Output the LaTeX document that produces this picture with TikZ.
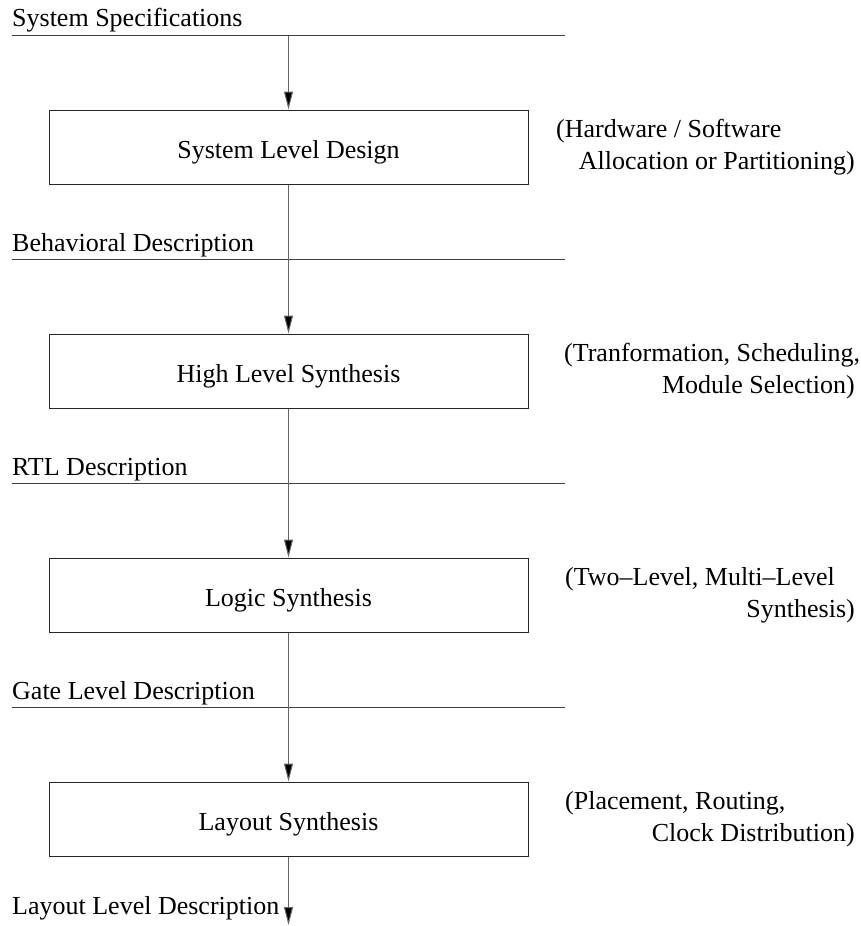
\documentclass[tikz,border=0pt]{standalone}
\usepackage{fontspec}
\setmainfont{Liberation Serif}
\usetikzlibrary{arrows.meta}
\begin{document}
\begin{tikzpicture}[x=1pt,y=-1pt,
  every node/.style={font=\fontsize{26}{31}\selectfont, inner sep=0pt},
  rule/.style={line width=1pt, black!75},
  flow/.style={line width=1pt, black!60, -{Triangle[length=18pt,width=9pt,fill=black]}},
  stage/.style={draw=black!85, line width=1pt, minimum width=479pt, minimum height=74pt,
                text height=22pt, text depth=0pt},
  levelname/.style={anchor=base west},
  notefirst/.style={anchor=base west},
  notesecond/.style={anchor=base east}]
\useasboundingbox (0,0) rectangle (861,926);

% description levels (label above a horizontal rule)
\foreach \name/\y/\txt in {spec/35.5/System Specifications,
                           beh/259.5/Behavioral Description,
                           rtl/483.5/RTL Description,
                           gate/707.5/Gate Level Description}{
  \coordinate (\name L) at (12,\y);
  \coordinate (\name R) at (565,\y);
  \coordinate (\name) at (288.5,\y);
  \draw[rule] (\name L) -- (\name R);
  \node[levelname] (\name text) at (12,\y-8.5) {\txt};
}

% synthesis stages
\node[stage] (sld) at (288.5,147) {System Level Design};
\node[stage] (hls) at (288.5,371) {High Level Synthesis};
\node[stage] (ls)  at (288.5,595) {Logic Synthesis};
\node[stage] (lys) at (288.5,819) {Layout Synthesis};

% side notes
\node[notefirst]  (n1a) at (556,137) {(Hardware / Software};
\node[notesecond] (n1b) at (855,169) {Allocation or Partitioning)};
\node[notefirst]  (n2a) at (564,361) {(Tranformation, Scheduling,};
\node[notesecond] (n2b) at (855,393) {Module Selection)};
\node[notefirst]  (n3a) at (565,585) {(Two–Level, Multi–Level};
\node[notesecond] (n3b) at (855,617) {Synthesis)};
\node[notefirst]  (n4a) at (565,809) {(Placement, Routing,};
\node[notesecond] (n4b) at (855,841) {Clock Distribution)};

% flow arrows
\draw[flow] (spec) -- (sld.north);
\draw[flow] (sld.south) -- (beh) -- (hls.north);
\draw[flow] (hls.south) -- (rtl) -- (ls.north);
\draw[flow] (ls.south) -- (gate) -- (lys.north);
\coordinate (out) at (288.5,925);
\draw[flow] (lys.south) -- (out);
\node[levelname] (outtext) at (12,914) {Layout Level Description};
\end{tikzpicture}
\end{document}
